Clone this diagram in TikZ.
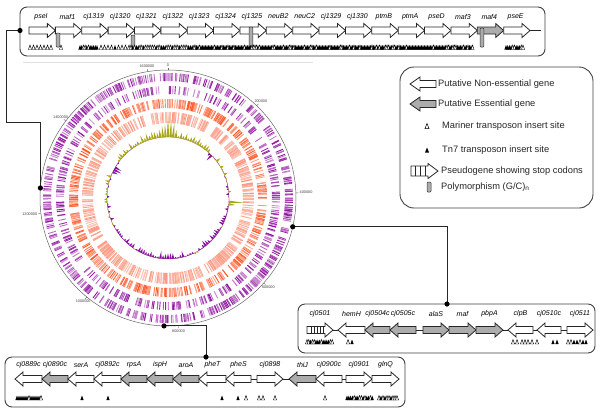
\documentclass[tikz,border=0pt]{standalone}
\usepackage{fontspec}
\setmainfont{Liberation Sans}

\definecolor{ringpurple}{RGB}{140,10,155}
\definecolor{ringorange}{RGB}{255,80,30}
\definecolor{ringsalmon}{RGB}{252,145,120}
\definecolor{skewolive}{RGB}{168,168,25}
\definecolor{skewpurple}{RGB}{135,15,155}
\definecolor{essgray}{RGB}{172,172,172}

\begin{document}
\begin{tikzpicture}[x=1pt,y=-1pt,
    gene/.style={draw=black!85, line width=0.8pt},
    panel/.style={draw=black!75, line width=0.9pt, rounded corners=7pt},
    link/.style={draw=black!85, line width=0.9pt},
    genelabel/.style={font=\fontsize{7}{8}\selectfont\itshape, inner sep=0pt},
    legtext/.style={font=\fontsize{9.3}{11}\selectfont, anchor=west, inner sep=0pt, text=black!85},
    ticklabel/.style={font=\fontsize{3.8}{4}\selectfont, inner sep=0.6pt, text=black!75}]

    \useasboundingbox (0,0) rectangle (600,416);
    \pgfmathsetseed{2718}

    % Gene arrow dimensions
    \def\bh{3.5} % half height of the body
    \def\hh{7}   % half height of the head
    \def\hl{8}   % length of the head

    % Right pointing gene: x start, x end, y, fill
    \def\generight#1#2#3#4{\draw[gene, fill=#4] ({#1},{#3-\bh}) -- ({#2-\hl},{#3-\bh}) -- ({#2-\hl},{#3-\hh}) -- ({#2},{#3}) -- ({#2-\hl},{#3+\hh}) -- ({#2-\hl},{#3+\bh}) -- ({#1},{#3+\bh}) -- cycle;}
    % Left pointing gene: x tip, x end, y, fill
    \def\geneleft#1#2#3#4{\draw[gene, fill=#4] ({#2},{#3-\bh}) -- ({#1+\hl},{#3-\bh}) -- ({#1+\hl},{#3-\hh}) -- ({#1},{#3}) -- ({#1+\hl},{#3+\hh}) -- ({#1+\hl},{#3+\bh}) -- ({#2},{#3+\bh}) -- cycle;}

    % Insert sites: mariner (open) and Tn7 (filled)
    \def\mtri#1#2{\draw[black, line width=0.45pt, fill=white] ({#1-1.6},{#2}) -- ({#1},{#2-4.5}) -- ({#1+1.6},{#2}) -- cycle;}
    \def\ttri#1#2{\fill[black] ({#1-1.6},{#2}) -- ({#1},{#2-4.5}) -- ({#1+1.6},{#2}) -- cycle;}
    % Row of mixed insert sites: x start, count, step, y, share of Tn7
    \def\insrow#1#2#3#4#5{\foreach \k in {0,...,#2} {
            \pgfmathsetmacro\xx{#1+\k*#3}
            \pgfmathsetmacro\rr{rnd}
            \ifdim\rr pt<#5pt \ttri{\xx}{#4}\else\mtri{\xx}{#4}\fi
        }}
    % Polymorphism marker: x, y top, y bottom
    \def\poly#1#2#3{\draw[black!80, line width=0.5pt, fill=essgray, rounded corners=0.8pt] ({#1-1.8},{#2}) rectangle ({#1+1.8},{#3});}

    % --- Circular genome map ---
    \begin{scope}[shift={(168,198)}]
        % outer purple ring
        \foreach \i in {1,...,560} {
            \pgfmathsetmacro\ang{rnd*360-90}
            \pgfmathtruncatemacro\pc{40+60*rnd}
            \draw[ringpurple!\pc!white, line width=0.9pt] (\ang:117) -- (\ang:125);
        }
        % inner purple ring
        \foreach \i in {1,...,360} {
            \pgfmathsetmacro\ang{rnd*360-90}
            \pgfmathtruncatemacro\pc{40+60*rnd}
            \draw[ringpurple!\pc!white, line width=0.9pt] (\ang:104) -- (\ang:112);
        }
        % orange ring
        \foreach \i in {1,...,480} {
            \pgfmathsetmacro\ang{rnd*360-90}
            \pgfmathtruncatemacro\pc{45+55*rnd}
            \draw[ringorange!\pc!white, line width=0.9pt] (\ang:90) -- (\ang:99);
        }
        % salmon ring
        \foreach \i in {1,...,520} {
            \pgfmathsetmacro\ang{rnd*360-90}
            \pgfmathtruncatemacro\pc{45+55*rnd}
            \draw[ringsalmon!\pc!white, line width=0.9pt] (\ang:75) -- (\ang:86);
        }

        % GC skew
        \draw[skewpurple!60!skewolive, line width=0.35pt] (0,0) circle (61);
        \foreach \k in {0,...,149} {
            \pgfmathsetmacro\ph{\k*2.4-180}
            \pgfmathsetmacro\v{4*cos(\ph)+7*(rnd-0.5)+16*max(0,1-abs(\ph)/10)+14*max(0,1-abs(\ph-94)/3.5)+9*max(0,1-abs(\ph-151)/3.5)-13*max(0,1-abs(\ph+62)/5)-8*max(0,1-abs(\ph-45)/4)}
            \ifdim\v pt>0pt \def\sc{skewolive}\else\def\sc{skewpurple}\fi
            \fill[\sc] ({\ph-1.2-90}:61) -- ({\ph-90}:{61+\v}) -- ({\ph+1.2-90}:61) -- cycle;
        }

        % outer circle, ticks and positions
        \draw[black!60, line width=0.5pt] (0,0) circle (128);
        \foreach \p/\txt in {0/0, 2/200000, 4/400000, 6/600000, 8/800000, 10/1000000, 12/1200000, 14/1400000, 16/1600000} {
            \pgfmathsetmacro\phi{\p*21.932}
            \pgfmathsetmacro\anc{270-\phi}
            \draw[black!60, line width=0.4pt] ({\phi-90}:128) -- ({\phi-90}:130.5);
            \node[ticklabel, anchor=\anc] (pos-\p) at ({\phi-90}:131) {\txt};
        }

        % end points of the links on the circle
        \coordinate (dotL) at (274.5-90:128);
        \coordinate (dotC) at (103-90:128);
        \coordinate (dotS) at (181.8-90:128);
    \end{scope}

    % faint frame line of the map
    \draw[black!12, line width=0.5pt] (23,62) -- (313,62);

    % --- Links from the map to the gene panels ---
    \coordinate (dotT) at (20,30.5);
    \coordinate (kneeT) at (6,122);
    \coordinate (dotR) at (447,304);
    \coordinate (dotB) at (206,357);
    \draw[link] (dotT) -| (kneeT) -| (dotL);
    \draw[link] (dotC) -| (dotR);
    \draw[link] (dotS) -| (dotB);

    % --- Top panel ---
    \draw[panel, fill=white] (20,7) rectangle (545,56);
    \draw[gene] (520,30.5) -- (541,30.5);
    \foreach \name/\col [count=\i from 0] in {pseI/white, maf1/white, cj1319/white, cj1320/white, cj1321/white, cj1322/white, cj1323/white, cj1324/white, cj1325/white, neuB2/white, neuC2/white, cj1329/white, cj1330/white, ptmB/white, ptmA/white, pseD/white, maf3/white, maf4/essgray, pseE/white} {
        \pgfmathsetmacro\xa{29+\i*26.37}
        \pgfmathsetmacro\xb{\xa+26.37}
        \generight{\xa}{\xb}{30.5}{\col}
        \node[genelabel] (t-\name) at ({\xa+12},16.5) {\name};
    }
    \poly{58}{33}{47}
    \poly{133}{35}{47}
    \poly{251}{27}{47}
    \poly{482}{28}{47}
    \foreach \x in {30,33.5,...,51} {\mtri{\x}{49.5}}
    \mtri{61}{49.5}
    \insrow{80}{10}{1.7}{49.5}{0.6}
    \insrow{101}{8}{3.5}{49.5}{0.1}
    \insrow{131}{35}{1.8}{49.5}{0.4}
    \insrow{195}{185}{1.5}{49.5}{0.75}
    \insrow{506}{10}{1.7}{49.5}{0.7}

    % --- Right panel ---
    \draw[panel, fill=white] (298,304) rectangle (595,353);
    \draw[gene] (333,330) -- (567,330);
    \generight{307}{333}{330}{white}
    \foreach \x in {311,314,317,320,323} {\draw[black!85, line width=0.5pt] (\x,326.5) -- (\x,333.5);}
    \node[genelabel] (r-cj0501) at (320,314) {cj0501};
    \foreach \name/\xa/\xb/\dir/\col in {hemH/338/365/0/white, cj0504c/365/390/0/essgray, cj0505c/390/416/0/essgray, alaS/423/449/1/essgray, maf/449/476/1/essgray, pbpA/476/503/1/essgray, clpB/508/533/0/white, cj0510c/537/561/0/white, cj0511/567/593/1/white} {
        \ifnum\dir=1 \generight{\xa}{\xb}{330}{\col}\else\geneleft{\xa}{\xb}{330}{\col}\fi
        \node[genelabel] (r-\name) at ({(\xa+\xb)/2},314) {\name};
    }
    \insrow{307}{14}{1.8}{344}{0.55}
    \mtri{348}{344} \ttri{352}{344}
    \foreach \x in {513,517,522,525,528,532,537} {\mtri{\x}{344}}
    \ttri{553}{344} \ttri{557}{344}
    \mtri{568}{344} \mtri{571}{344} \ttri{574}{344} \ttri{577}{344} \mtri{580}{344} \ttri{583}{344} \ttri{586}{344}

    % --- Bottom panel ---
    \draw[panel, fill=white] (5,357) rectangle (405,407);
    \draw[gene] (251,379) -- (346,379);
    \foreach \name/\xa/\xb/\dir/\col in {cj0889c/15/42/0/white, cj0890c/42/68/0/essgray, serA/68/94/0/white, cj0892c/94/121/0/white, rpsA/121/147/0/essgray, ispH/147/173/0/essgray, aroA/173/199/0/essgray, pheT/199/226/0/white, pheS/226/251/0/white, cj0898/257/283/1/white, thiJ/289/316/0/essgray, cj0900c/316/342/0/white, cj0901/346/372/1/white, glnQ/372/399/1/white} {
        \ifnum\dir=1 \generight{\xa}{\xb}{379}{\col}\else\geneleft{\xa}{\xb}{379}{\col}\fi
        \node[genelabel] (b-\name) at ({(\xa+\xb)/2},365) {\name};
    }
    \insrow{17}{12}{2}{400}{0.85}
    \ttri{82}{400} \ttri{108}{400} \ttri{222}{400} \ttri{238}{400} \mtri{246}{400}
    \mtri{259}{400} \mtri{263}{400} \mtri{275}{400} \mtri{325}{400}
    \insrow{347}{14}{1.8}{400}{0.7}
    \insrow{379}{9}{2}{400}{0.4}

    % dots at the ends of the links
    \foreach \d in {dotT,dotL,dotC,dotR,dotS,dotB} {\fill[black] (\d) circle (2.6);}

    % --- Legend ---
    \draw[panel, rounded corners=14pt] (400,67) rectangle (593,208);
    {\def\hl{10}
        \geneleft{410}{436}{84}{white}
        \geneleft{410}{436}{104}{essgray}
    }
    \node[legtext] (leg-ne) at (438,84) {Putative Non-essential gene};
    \node[legtext] (leg-e) at (438,104) {Putative Essential gene};
    \draw[black, line width=0.5pt, fill=white] (425,128.5) -- (427,123.5) -- (429,128.5) -- cycle;
    \node[legtext] (leg-mar) at (442,126) {Mariner transposon insert site};
    \fill[black] (425,152.5) -- (427,147.5) -- (429,152.5) -- cycle;
    \node[legtext] (leg-tn) at (442,150) {Tn7 transposon insert site};
    {\def\bh{5}\def\hh{7.5}\def\hl{10}
        \generight{411}{438}{171}{white}
    }
    \foreach \x in {415,420,425} {\draw[black!85, line width=0.5pt] (\x,166) -- (\x,176);}
    \node[legtext] (leg-ps) at (441,171) {Pseudogene showing stop codons};
    \draw[black!80, line width=0.5pt, fill=essgray, rounded corners=1pt] (427,182) rectangle (431,192);
    \node[legtext] (leg-poly) at (441,187) {Polymorphism (G/C)\textsubscript{n}};
\end{tikzpicture}
\end{document}
